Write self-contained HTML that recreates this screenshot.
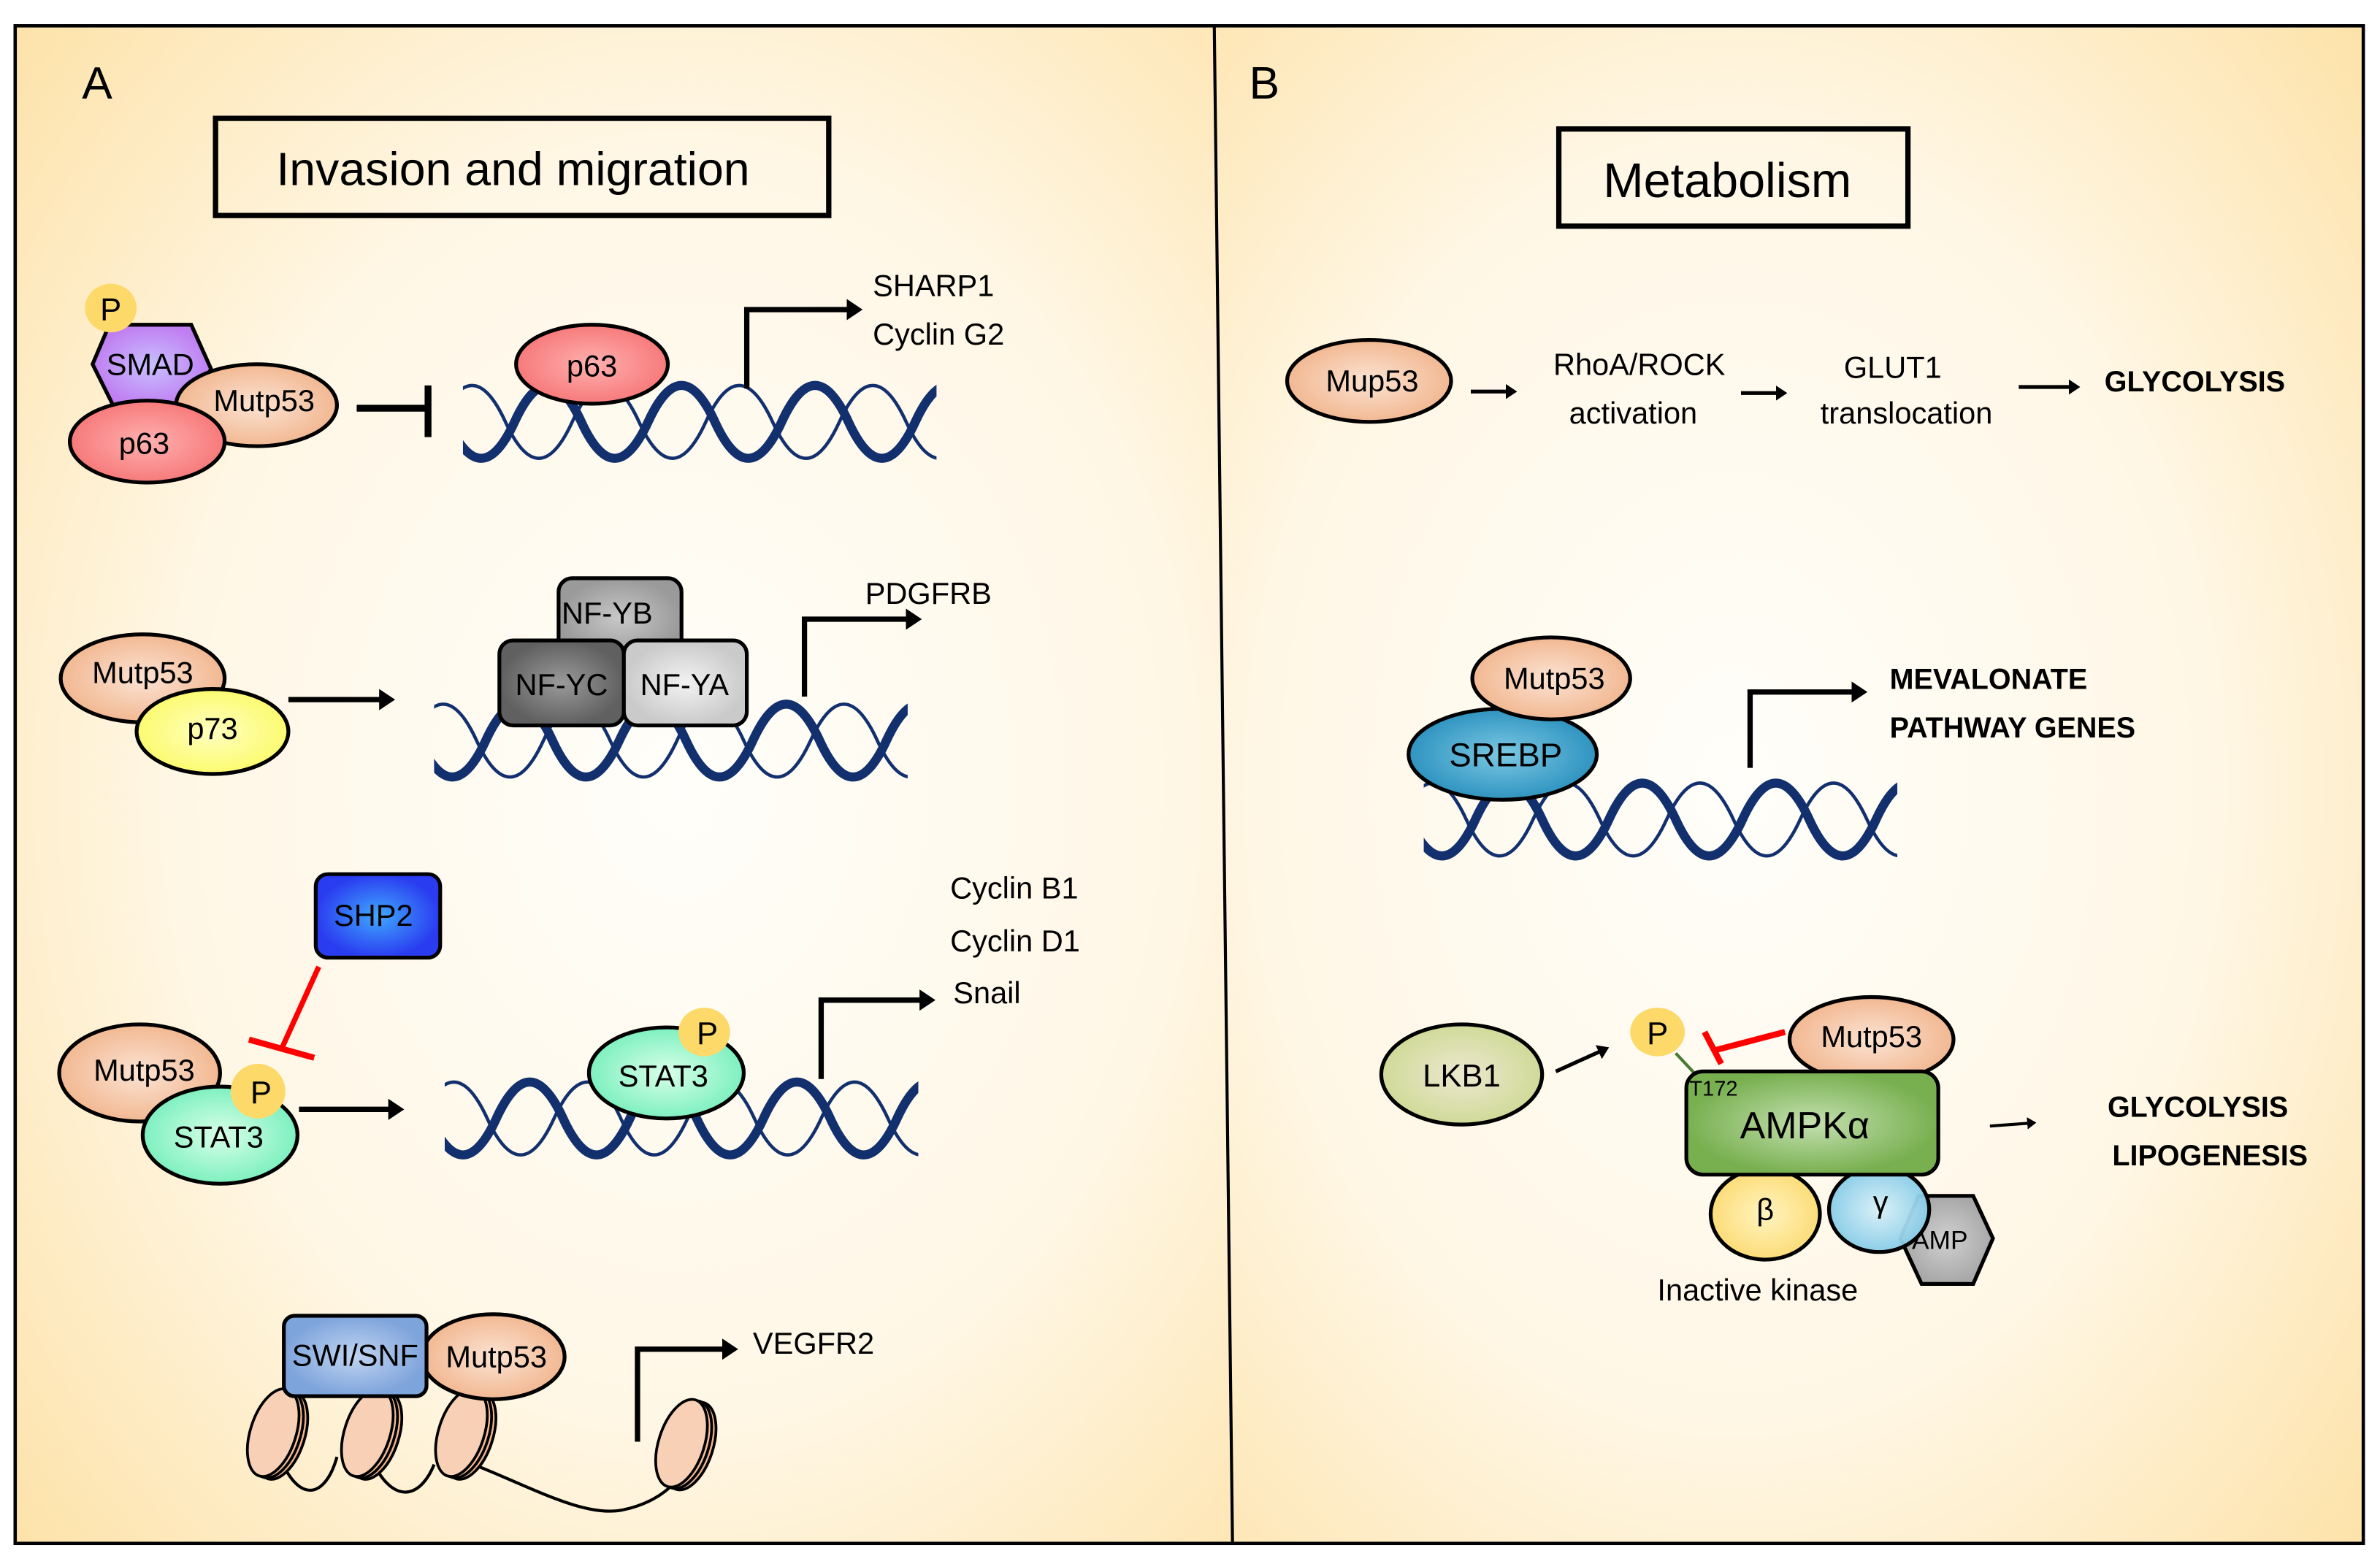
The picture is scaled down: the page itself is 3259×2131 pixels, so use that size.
<!DOCTYPE html>
<html><head><meta charset="utf-8"><style>
html,body{margin:0;padding:0;background:#fff}
svg{display:block}
text{font-family:"Liberation Sans",sans-serif;fill:#000}
</style></head><body>
<svg width="3259" height="2131" viewBox="0 0 1568 1025.3" preserveAspectRatio="none" xmlns="http://www.w3.org/2000/svg">
<defs>
<radialGradient id="bgA" cx="0.55" cy="0.5" r="0.75"><stop offset="0" stop-color="#fffefa"/><stop offset="0.55" stop-color="#fff7e6"/><stop offset="1" stop-color="#fde2a8"/></radialGradient>
<radialGradient id="bgB" cx="0.45" cy="0.5" r="0.75"><stop offset="0" stop-color="#fffefa"/><stop offset="0.55" stop-color="#fff7e6"/><stop offset="1" stop-color="#fde2a8"/></radialGradient>
<radialGradient id="gPeach"><stop offset="0" stop-color="#fbe3d3"/><stop offset="1" stop-color="#f2b892"/></radialGradient>
<radialGradient id="gRed"><stop offset="0" stop-color="#ffb0b0"/><stop offset="1" stop-color="#f77a7a"/></radialGradient>
<radialGradient id="gPurp"><stop offset="0" stop-color="#c8c0ff"/><stop offset="1" stop-color="#c07ef2"/></radialGradient>
<radialGradient id="gYel"><stop offset="0" stop-color="#ffffc0"/><stop offset="1" stop-color="#fbfb70"/></radialGradient>
<radialGradient id="gMint"><stop offset="0" stop-color="#d8ffe8"/><stop offset="1" stop-color="#7ef0c0"/></radialGradient>
<radialGradient id="gBlue"><stop offset="0" stop-color="#40a8ff"/><stop offset="1" stop-color="#2a3cf0"/></radialGradient>
<radialGradient id="gSwi"><stop offset="0" stop-color="#c0d4f0"/><stop offset="1" stop-color="#7ea4dc"/></radialGradient>
<radialGradient id="gG1"><stop offset="0" stop-color="#c8c8c8"/><stop offset="1" stop-color="#9a9a9a"/></radialGradient>
<radialGradient id="gG2"><stop offset="0" stop-color="#9a9a9a"/><stop offset="1" stop-color="#606060"/></radialGradient>
<radialGradient id="gG3"><stop offset="0" stop-color="#f2f2f2"/><stop offset="1" stop-color="#cacaca"/></radialGradient>
<radialGradient id="gTeal"><stop offset="0" stop-color="#7cc8e4"/><stop offset="1" stop-color="#2f94c0"/></radialGradient>
<radialGradient id="gOlive"><stop offset="0" stop-color="#ece8d0"/><stop offset="1" stop-color="#d0da98"/></radialGradient>
<radialGradient id="gGreen"><stop offset="0" stop-color="#c4e0b0"/><stop offset="1" stop-color="#78b050"/></radialGradient>
<radialGradient id="gBeta"><stop offset="0" stop-color="#fff4c0"/><stop offset="1" stop-color="#fcdc78"/></radialGradient>
<radialGradient id="gGam"><stop offset="0" stop-color="#d8f0f8"/><stop offset="1" stop-color="#86cce8"/></radialGradient>
<radialGradient id="gAmp"><stop offset="0" stop-color="#d0d0d0"/><stop offset="1" stop-color="#a8a8a8"/></radialGradient>
<clipPath id="dc"><rect x="0" y="-10" width="312" height="80"/></clipPath>
<g id="dna">
<g clip-path="url(#dc)" fill="none" stroke="#13306e">
<path d="M-16,27 Q6,-21 28,27 T72,27 T116,27 T160,27 T204,27 T248,27 T292,27 T336,27" stroke-width="2.2"/>
<path d="M-10,27 Q12,75 34,27 T78,27 T122,27 T166,27 T210,27 T254,27 T298,27 T342,27" stroke-width="6"/>
</g>
</g>
<marker id="ah" markerWidth="4" markerHeight="4" refX="1.2" refY="2" orient="auto" markerUnits="strokeWidth"><path d="M0,0 L3,2 L0,4 Z" fill="#000"/></marker>
<g id="nuc">
<ellipse cx="6" cy="0" rx="15" ry="30" fill="#f2b48e" stroke="#000" stroke-width="1.8"/>
<ellipse cx="3" cy="0" rx="15" ry="30" fill="#f5bf9c" stroke="#000" stroke-width="1.8"/>
<ellipse cx="0" cy="0" rx="15" ry="30" fill="#f7d0b6" stroke="#000" stroke-width="1.8"/>
</g>
</defs>

<!-- backgrounds -->
<rect x="10" y="17" width="797" height="1000" fill="url(#bgA)"/>
<rect x="805" y="17" width="752" height="1000" fill="url(#bgB)"/>
<rect x="10" y="17" width="1547" height="1000" fill="none" stroke="#000" stroke-width="2.2"/>
<line x1="800" y1="17" x2="812" y2="1017" stroke="#000" stroke-width="2"/>

<!-- Panel A -->
<text x="54" y="65" font-size="30">A</text>
<rect x="142" y="78" width="404" height="64" fill="none" stroke="#000" stroke-width="3.5"/>
<text x="338" y="122" font-size="31" text-anchor="middle">Invasion and migration</text>

<!-- row 1 -->
<polygon points="72,214 126,214 139,243 126,268 75,268 61,240" fill="url(#gPurp)" stroke="#000" stroke-width="2.5"/>
<ellipse cx="73" cy="203" rx="17" ry="16" fill="#fdd96a"/>
<text x="73" y="211" font-size="21" text-anchor="middle">P</text>
<text x="99" y="247" font-size="20" text-anchor="middle">SMAD</text>
<ellipse cx="169" cy="267" rx="53" ry="27" fill="url(#gPeach)" stroke="#000" stroke-width="2.5"/>
<text x="174" y="271" font-size="20" text-anchor="middle">Mutp53</text>
<ellipse cx="97" cy="291" rx="51" ry="27" fill="url(#gRed)" stroke="#000" stroke-width="2.5"/>
<text x="95" y="299" font-size="20" text-anchor="middle">p63</text>
<line x1="235" y1="269" x2="281" y2="269" stroke="#000" stroke-width="4.5"/>
<line x1="282" y1="254" x2="282" y2="288" stroke="#000" stroke-width="4.5"/>
<use href="#dna" x="305" y="251"/>
<ellipse cx="390" cy="240" rx="50" ry="26" fill="url(#gRed)" stroke="#000" stroke-width="2.5"/>
<text x="390" y="248" font-size="20" text-anchor="middle">p63</text>
<polyline points="492,256 492,204 562,204" fill="none" stroke="#000" stroke-width="3.5" marker-end="url(#ah)"/>
<text x="575" y="195" font-size="20">SHARP1</text>
<text x="575" y="227" font-size="20">Cyclin G2</text>

<!-- row 2 -->
<ellipse cx="94" cy="447" rx="54" ry="29" fill="url(#gPeach)" stroke="#000" stroke-width="2.5"/>
<text x="94" y="450" font-size="20" text-anchor="middle">Mutp53</text>
<ellipse cx="140" cy="482" rx="50" ry="28" fill="url(#gYel)" stroke="#000" stroke-width="2.5"/>
<text x="140" y="487" font-size="20" text-anchor="middle">p73</text>
<line x1="190" y1="461" x2="254" y2="461" stroke="#000" stroke-width="3.5" marker-end="url(#ah)"/>
<use href="#dna" x="286" y="461"/>
<rect x="368" y="381" width="81" height="53" rx="9" fill="url(#gG1)" stroke="#000" stroke-width="2.5"/>
<text x="400" y="411" font-size="20" text-anchor="middle">NF-YB</text>
<rect x="329" y="422" width="82" height="56" rx="9" fill="url(#gG2)" stroke="#000" stroke-width="2.5"/>
<text x="370" y="458" font-size="20" text-anchor="middle">NF-YC</text>
<rect x="411" y="422" width="81" height="56" rx="9" fill="url(#gG3)" stroke="#000" stroke-width="2.5"/>
<text x="451" y="458" font-size="20" text-anchor="middle">NF-YA</text>
<polyline points="530,459 530,408 601,408" fill="none" stroke="#000" stroke-width="3.5" marker-end="url(#ah)"/>
<text x="570" y="398" font-size="20">PDGFRB</text>

<!-- row 3 -->
<rect x="208" y="576" width="82" height="55" rx="8" fill="url(#gBlue)" stroke="#000" stroke-width="2.5"/>
<text x="246" y="610" font-size="20" text-anchor="middle">SHP2</text>
<line x1="210" y1="637" x2="186" y2="690" stroke="#f00" stroke-width="3.5"/>
<line x1="164" y1="685" x2="207" y2="697" stroke="#f00" stroke-width="4"/>
<ellipse cx="92" cy="707" rx="53" ry="32" fill="url(#gPeach)" stroke="#000" stroke-width="2.5"/>
<text x="95" y="712" font-size="20" text-anchor="middle">Mutp53</text>
<ellipse cx="145" cy="748" rx="51" ry="32" fill="url(#gMint)" stroke="#000" stroke-width="2.5"/>
<text x="144" y="756" font-size="20" text-anchor="middle">STAT3</text>
<ellipse cx="170" cy="719" rx="18" ry="18" fill="#fdd96a"/>
<text x="172" y="727" font-size="21" text-anchor="middle">P</text>
<line x1="197" y1="731" x2="260" y2="731" stroke="#000" stroke-width="3.5" marker-end="url(#ah)"/>
<use href="#dna" x="293" y="710"/>
<ellipse cx="439" cy="707" rx="51" ry="30" fill="url(#gMint)" stroke="#000" stroke-width="2.5"/>
<text x="437" y="716" font-size="20" text-anchor="middle">STAT3</text>
<ellipse cx="464" cy="680" rx="17" ry="16" fill="#fdd96a"/>
<text x="466" y="688" font-size="21" text-anchor="middle">P</text>
<polyline points="541,711 541,659 610,659" fill="none" stroke="#000" stroke-width="3.5" marker-end="url(#ah)"/>
<text x="626" y="592" font-size="20">Cyclin B1</text>
<text x="626" y="627" font-size="20">Cyclin D1</text>
<text x="628" y="661" font-size="20">Snail</text>

<!-- row 4 -->
<path d="M188,968 C200,990 215,985 222,960 M248,968 C262,992 278,985 286,965 M312,965 C350,980 385,1000 410,995 C425,992 438,985 446,975" fill="none" stroke="#000" stroke-width="2"/>
<use href="#nuc" transform="translate(180,944) rotate(18)"/>
<use href="#nuc" transform="translate(242,944) rotate(18)"/>
<use href="#nuc" transform="translate(304,944) rotate(18)"/>
<use href="#nuc" transform="translate(449,951) rotate(18)"/>
<ellipse cx="325" cy="894" rx="47" ry="28" fill="url(#gPeach)" stroke="#000" stroke-width="2.5"/>
<text x="327" y="901" font-size="20" text-anchor="middle">Mutp53</text>
<rect x="187" y="867" width="94" height="53" rx="7" fill="url(#gSwi)" stroke="#000" stroke-width="2.5"/>
<text x="234" y="900" font-size="20" text-anchor="middle">SWI/SNF</text>
<polyline points="420,950 420,889 480,889" fill="none" stroke="#000" stroke-width="3.5" marker-end="url(#ah)"/>
<text x="496" y="892" font-size="20">VEGFR2</text>

<!-- Panel B -->
<text x="823" y="65" font-size="30">B</text>
<rect x="1027" y="85" width="230" height="64" fill="none" stroke="#000" stroke-width="3.5"/>
<text x="1138" y="130" font-size="32" text-anchor="middle">Metabolism</text>

<ellipse cx="902" cy="251" rx="54" ry="27" fill="url(#gPeach)" stroke="#000" stroke-width="2.5"/>
<text x="904" y="258" font-size="20" text-anchor="middle">Mup53</text>
<line x1="969" y1="258" x2="995" y2="258" stroke="#000" stroke-width="2.5" marker-end="url(#ah)"/>
<text x="1080" y="247" font-size="20" text-anchor="middle">RhoA/ROCK</text>
<text x="1076" y="279" font-size="20" text-anchor="middle">activation</text>
<line x1="1147" y1="259" x2="1173" y2="259" stroke="#000" stroke-width="2.5" marker-end="url(#ah)"/>
<text x="1247" y="249" font-size="20" text-anchor="middle">GLUT1</text>
<text x="1256" y="279" font-size="20" text-anchor="middle">translocation</text>
<line x1="1330" y1="255" x2="1366" y2="255" stroke="#000" stroke-width="2.5" marker-end="url(#ah)"/>
<text x="1446" y="258" font-size="19" font-weight="bold" text-anchor="middle">GLYCOLYSIS</text>

<use href="#dna" x="938" y="513"/>
<ellipse cx="990" cy="497" rx="62" ry="30" fill="url(#gTeal)" stroke="#000" stroke-width="2.5"/>
<text x="992" y="505" font-size="22" text-anchor="middle">SREBP</text>
<ellipse cx="1022" cy="447" rx="52" ry="27" fill="url(#gPeach)" stroke="#000" stroke-width="2.5"/>
<text x="1024" y="454" font-size="20" text-anchor="middle">Mutp53</text>
<polyline points="1153,506 1153,456 1224,456" fill="none" stroke="#000" stroke-width="3.5" marker-end="url(#ah)"/>
<text x="1245" y="454" font-size="19" font-weight="bold">MEVALONATE</text>
<text x="1245" y="486" font-size="19" font-weight="bold">PATHWAY GENES</text>

<ellipse cx="963" cy="708" rx="53" ry="33" fill="url(#gOlive)" stroke="#000" stroke-width="2.5"/>
<text x="963" y="716" font-size="21" text-anchor="middle">LKB1</text>
<line x1="1025" y1="706" x2="1056" y2="692" stroke="#000" stroke-width="2.5" marker-end="url(#ah)"/>
<line x1="1104" y1="694" x2="1119" y2="710" stroke="#4a7a30" stroke-width="2"/>
<ellipse cx="1092" cy="680" rx="18" ry="16" fill="#fdd96a"/>
<text x="1092" y="688" font-size="21" text-anchor="middle">P</text>
<line x1="1176" y1="680" x2="1130" y2="692" stroke="#f00" stroke-width="4"/>
<line x1="1123" y1="680" x2="1134" y2="701" stroke="#f00" stroke-width="4"/>
<ellipse cx="1233" cy="685" rx="54" ry="28" fill="url(#gPeach)" stroke="#000" stroke-width="2.5"/>
<text x="1233" y="690" font-size="20" text-anchor="middle">Mutp53</text>
<polygon points="1264,788 1300,788 1313,816 1300,846 1266,846 1252,816" fill="url(#gAmp)" stroke="#000" stroke-width="2.5"/>
<text x="1278" y="823" font-size="17" text-anchor="middle">AMP</text>
<ellipse cx="1238" cy="797" rx="33" ry="28" fill="url(#gGam)" stroke="#000" stroke-width="2.5" fill-opacity="0.95"/>
<text x="1239" y="799" font-size="20" text-anchor="middle">γ</text>
<ellipse cx="1163" cy="800" rx="36" ry="30" fill="url(#gBeta)" stroke="#000" stroke-width="2.5"/>
<text x="1163" y="804" font-size="20" text-anchor="middle">β</text>
<rect x="1111" y="706" width="166" height="68" rx="11" fill="url(#gGreen)" stroke="#000" stroke-width="2.5"/>
<text x="1189" y="750" font-size="25" text-anchor="middle">AMPKα</text>
<text x="1113" y="722" font-size="14">T172</text>
<text x="1158" y="857" font-size="20" text-anchor="middle">Inactive kinase</text>
<line x1="1311" y1="742" x2="1338" y2="740" stroke="#000" stroke-width="2" marker-end="url(#ah)"/>
<text x="1448" y="736" font-size="19" font-weight="bold" text-anchor="middle">GLYCOLYSIS</text>
<text x="1456" y="768" font-size="19" font-weight="bold" text-anchor="middle">LIPOGENESIS</text>
</svg>
</body></html>
